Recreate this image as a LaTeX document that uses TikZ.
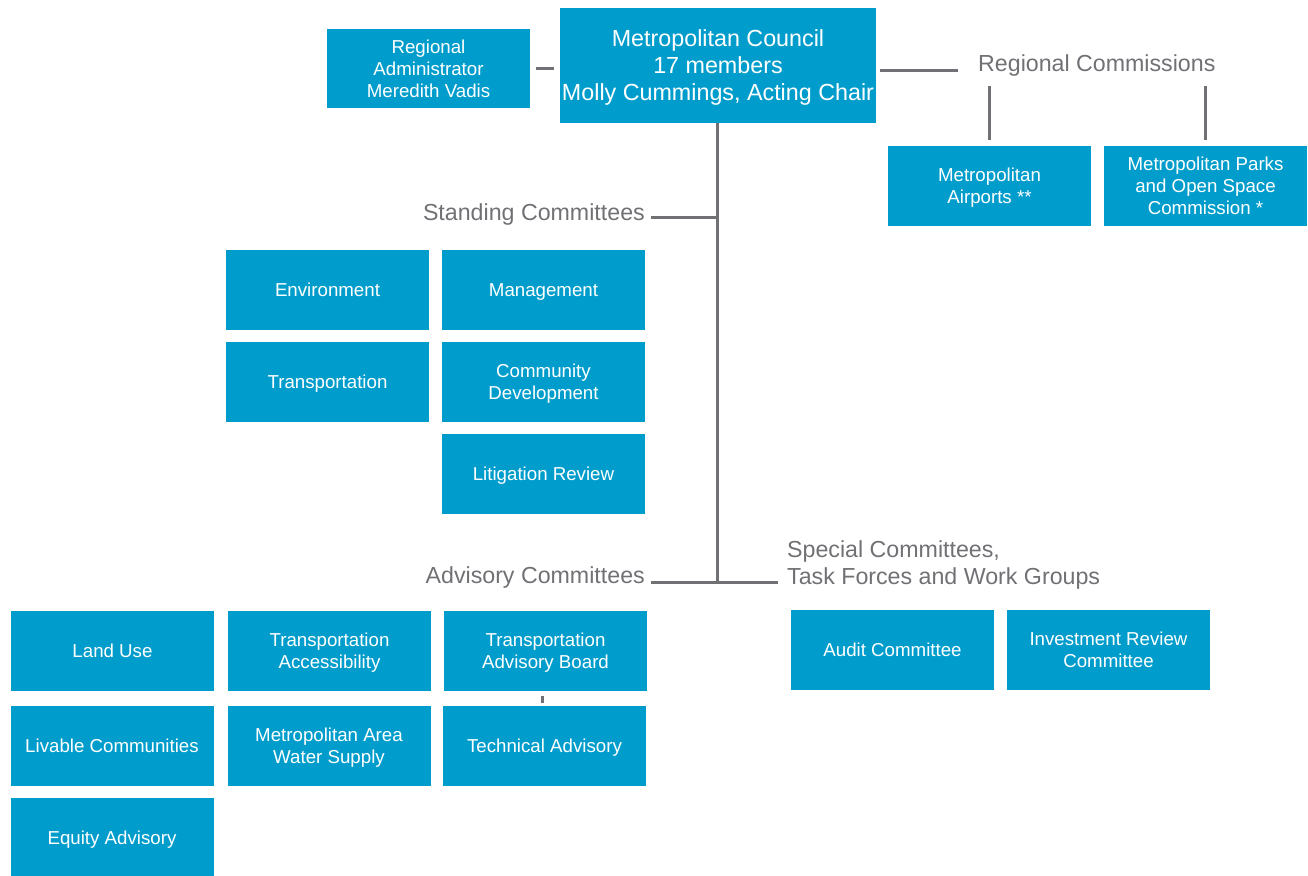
\documentclass[tikz,border=0pt]{standalone}
\usepackage{fontspec}
\setmainfont{Liberation Sans}
\definecolor{boxblue}{RGB}{0,157,204}
\definecolor{linegray}{RGB}{112,112,117}

\tikzset{
  unit/.style={fill=boxblue, text=white, align=center, inner sep=0pt, text depth=0pt,
    minimum width=203pt, minimum height=80pt, font=\fontsize{18.7}{22}\selectfont},
  grouplabel/.style={text=linegray, inner sep=0pt, align=left,
    font=\fontsize{23.2}{27}\selectfont},
  link/.style={draw=linegray, line width=3pt}
}

\begin{document}
\begin{tikzpicture}[x=1pt,y=-1pt]
\useasboundingbox (0,0) rectangle (1308,875);

% top
\node[unit, minimum width=316pt, minimum height=115pt,
  font=\fontsize{23.3}{27}\selectfont]
  (council) at (718,65.5) {Metropolitan Council\\17 members\\Molly Cummings, Acting Chair};
\node[unit, minimum height=79pt] (admin) at (428.5,68.5) {Regional\\Administrator\\Meredith Vadis};
\draw[link] ([xshift=6pt]admin.east) -- ([xshift=-6pt]council.west |- admin.east);

% regional commissions
\node[grouplabel, anchor=west] (regcom) at (978,66) {Regional Commissions};
\coordinate (rj) at (958,70);
\draw[link] ([xshift=4pt]council.east |- rj) -- (rj);
\node[unit] (airports) at (989.5,186) {Metropolitan\\Airports **};
\node[unit] (parks) at (1205.5,186) {Metropolitan Parks\\and Open Space\\Commission *};
\draw[link] (airports.north |- 0,86) -- ([yshift=6pt]airports.north);
\draw[link] (parks.north |- 0,86) -- ([yshift=6pt]parks.north);

% trunk
\coordinate (sj) at (717,217);
\coordinate (aj) at (717,582);
\draw[link] (sj |- council.south) -- (aj);

% standing committees
\node[grouplabel, anchor=east] (standing) at (645,214) {Standing Committees};
\draw[link] ([xshift=6pt]standing.east |- sj) -- (sj);
\node[unit] (environment) at (327.5,290) {Environment};
\node[unit] (management) at (543.5,290) {Management};
\node[unit] (transportation) at (327.5,382) {Transportation};
\node[unit] (commdev) at (543.5,382) {Community\\Development};
\node[unit] (litigation) at (543.5,474) {Litigation Review};

% advisory committees
\node[grouplabel, anchor=east] (advisory) at (645,577) {Advisory Committees};
\draw[link] ([xshift=6pt]advisory.east |- aj) -- (aj);
\node[unit] (landuse) at (112.5,651) {Land Use};
\node[unit] (transacc) at (329.5,651) {Transportation\\Accessibility};
\node[unit] (tab) at (545.5,651) {Transportation\\Advisory Board};
\node[unit] (livable) at (112,746) {Livable Communities};
\node[unit] (water) at (329,746) {Metropolitan Area\\Water Supply};
\node[unit] (technical) at (544.5,746) {Technical Advisory};
\node[unit] (equity) at (112,838) {Equity Advisory};
\draw[link] ([xshift=-3pt,yshift=-5pt]tab.south) -- ([xshift=-3pt,yshift=3pt]tab.south |- technical.north);

% special committees
\node[grouplabel, anchor=west] (special) at (787,565) {Special Committees,\\Task Forces and Work Groups};
\draw[link] (aj) -- (778,582);
\node[unit] (audit) at (892.5,650) {Audit Committee};
\node[unit] (investment) at (1108.5,650) {Investment Review\\Committee};

\end{tikzpicture}
\end{document}
